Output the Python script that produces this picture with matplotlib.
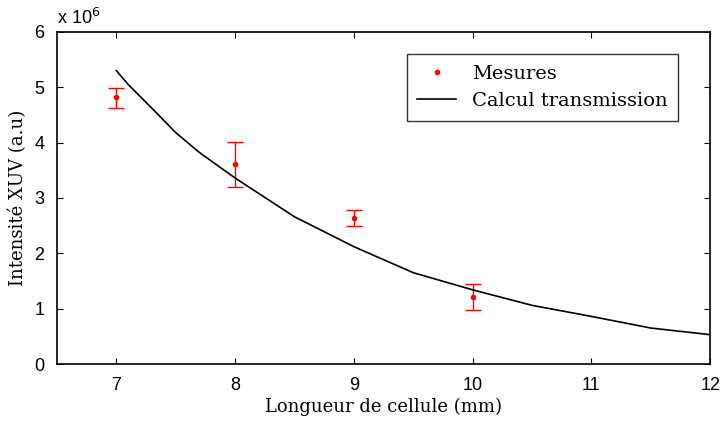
#!/usr/bin/env python3
# XUV intensity vs. cell length: measurements with error bars and transmission model

import matplotlib.pyplot as plt

# Measurements (units of 1e6 a.u.)
x_mes = [7, 8, 9, 10]
y_mes = [4.83, 3.62, 2.64, 1.21]
err_low = [0.20, 0.42, 0.14, 0.23]
err_high = [0.16, 0.40, 0.14, 0.24]

# Transmission calculation (units of 1e6 a.u.)
x_calc = [7.0, 7.1, 7.3, 7.5, 7.7, 8.0, 8.5, 9.0, 9.5, 10.0, 10.5, 11.0, 11.5, 12.0]
y_calc = [5.30, 5.05, 4.62, 4.18, 3.82, 3.36, 2.66, 2.12, 1.65, 1.34, 1.06, 0.86, 0.65, 0.53]

xticks = [7, 8, 9, 10, 11, 12]
yticks = [0, 1, 2, 3, 4, 5, 6]

fig = plt.figure(figsize=(7.21, 4.22), dpi=100)
ax = fig.add_axes([0.079, 0.1374, 0.906, 0.787])

ax.errorbar(x_mes, y_mes, yerr=[err_low, err_high], fmt='none', ecolor='red',
            elinewidth=1, capsize=6, capthick=1)
ax.plot(x_mes, y_mes, '.', color='red', markersize=6, label='Mesures')
ax.plot(x_calc, y_calc, color='black', linewidth=1.2, label='Calcul transmission')

ax.set_xlim(6.5, 12)
ax.set_ylim(0, 6)
ax.set_xticks(xticks)
ax.set_yticks(yticks)
ax.tick_params(direction='in', top=True, right=True, length=4, labelsize=13, pad=9)
for lbl in ax.get_xticklabels() + ax.get_yticklabels():
    lbl.set_family('Liberation Sans')
for s in ax.spines.values():
    s.set_linewidth(1.2)

ax.set_xlabel('Longueur de cellule (mm)', family='DejaVu Serif', fontsize=13, labelpad=3)
ax.set_ylabel('Intensité XUV (a.u)', family='DejaVu Serif', fontsize=13, labelpad=5)
ax.text(0.0, 1.012, r'x 10$^{6}$', transform=ax.transAxes, family='Liberation Sans',
        fontsize=13, ha='left', va='bottom')

leg = ax.legend(loc='upper right', bbox_to_anchor=(0.951, 0.934), borderaxespad=0,
                fancybox=False, edgecolor='black',
                prop={'family': 'DejaVu Serif', 'size': 14},
                handlelength=2.0, handletextpad=0.8, borderpad=0.55, labelspacing=0.5)
leg.get_frame().set_linewidth(1.0)

plt.savefig('out.png', dpi=100)
